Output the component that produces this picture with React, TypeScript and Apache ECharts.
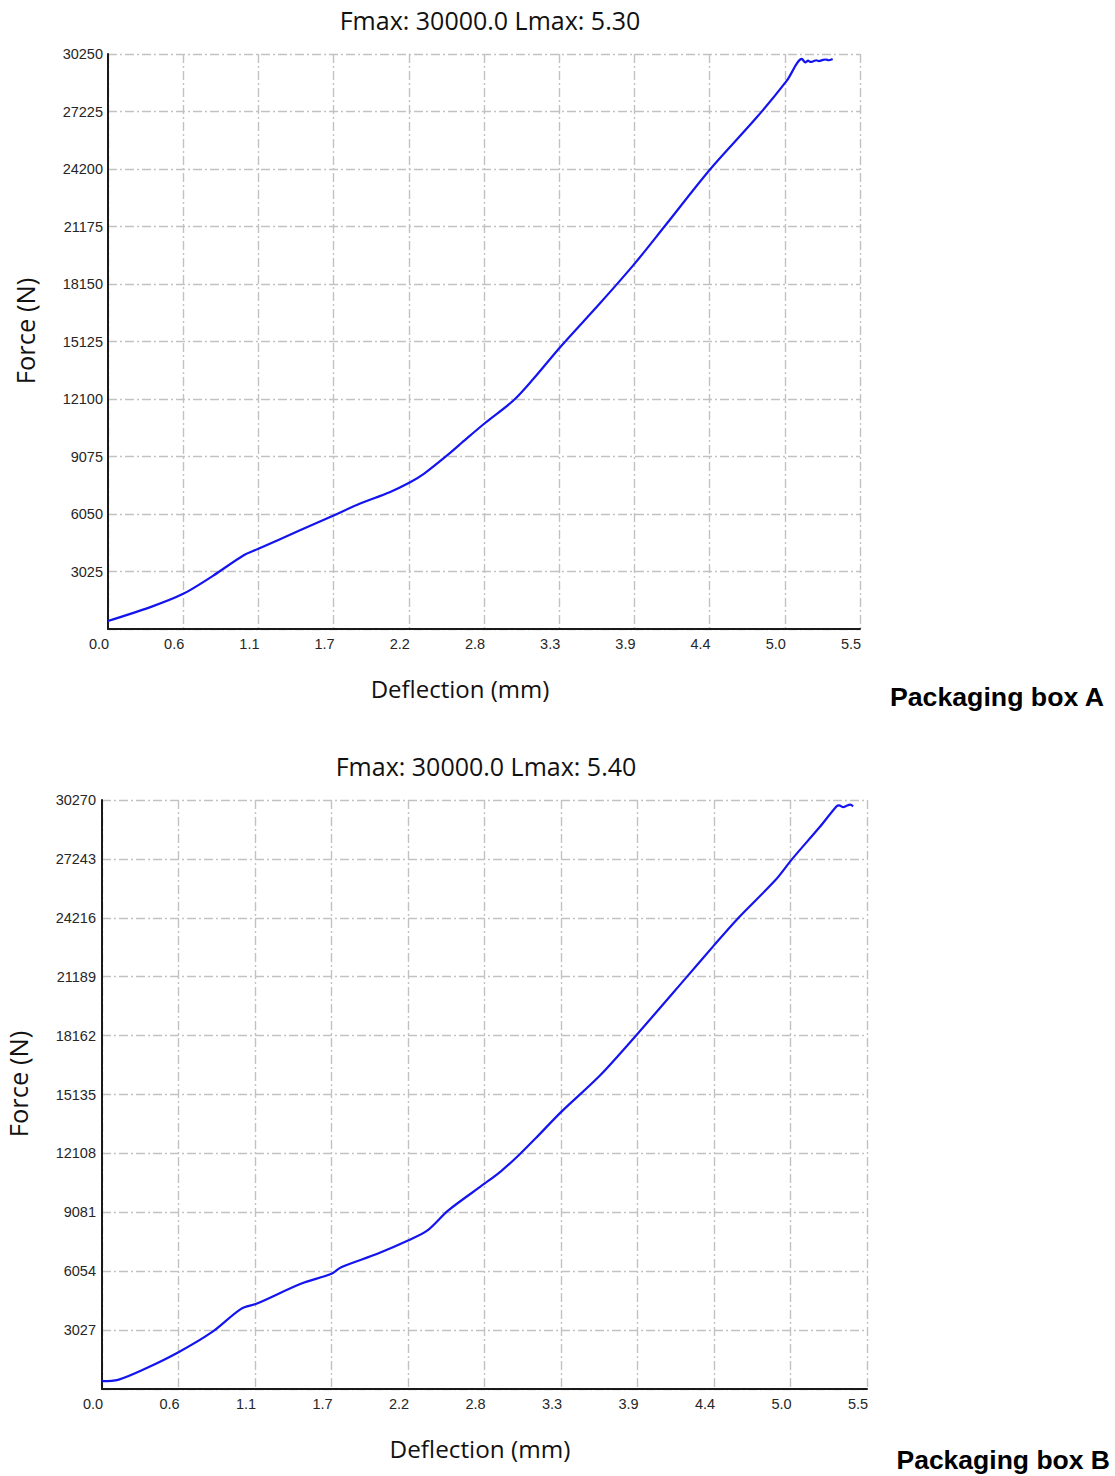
import React, { useEffect, useRef } from "react";
import * as echarts from "echarts";

// ---------- data ----------
const xTickLabels = ["0.0", "0.6", "1.1", "1.7", "2.2", "2.8", "3.3", "3.9", "4.4", "5.0", "5.5"];

const yTickLabelsA = ["", "3025", "6050", "9075", "12100", "15125", "18150", "21175", "24200", "27225", "30250"];
const yTickLabelsB = ["", "3027", "6054", "9081", "12108", "15135", "18162", "21189", "24216", "27243", "30270"];

const deflectionA = [
  0.0, 0.31, 0.55, 0.77, 0.99, 1.1, 1.4, 1.65, 1.84, 2.06, 2.21, 2.31, 2.48, 2.62, 2.76, 2.965, 3.11,
  3.31, 3.6, 3.855, 4.07, 4.4, 4.745, 4.965, 5.075, 5.1, 5.12, 5.14, 5.16, 5.18, 5.2, 5.23, 5.25,
  5.27, 5.3,
];
const forceA = [
  420, 1150, 1850, 2810, 3870, 4220, 5180, 5970, 6590, 7200, 7720, 8160, 9130, 10000, 10850, 12020, 13150,
  14850, 17150, 19250, 21175, 24150, 26920, 28850, 29990, 29810, 29900, 29830, 29870, 29920, 29880,
  29940, 29960, 29920, 29990,
];

const deflectionB = [
  0.0, 0.115, 0.31, 0.55, 0.79, 1.0, 1.11, 1.43, 1.65, 1.72, 1.98, 2.2, 2.34, 2.49, 2.75, 2.87, 3.0,
  3.12, 3.3, 3.58, 3.84, 4.2, 4.4, 4.57, 4.84, 4.96, 5.16, 5.28, 5.3, 5.33, 5.35, 5.38, 5.4,
];
const forceB = [
  400, 470, 1040, 1890, 2920, 4120, 4380, 5410, 5920, 6260, 6950, 7630, 8150, 9180, 10550, 11200, 12040,
  12900, 14230, 16110, 18170, 21140, 22800, 24170, 26140, 27220, 28880, 29940, 29990, 29900, 29960, 30030,
  29940,
];

const titleA = "Fmax: 30000.0 Lmax: 5.30";
const titleB = "Fmax: 30000.0 Lmax: 5.40";
const xName = "Deflection (mm)";
const yName = "Force (N)";
const boxA = "Packaging box A";
const boxB = "Packaging box B";

const X_MAX = 5.5;
const X_STEP = 0.55;
const Y_MAX_A = 30250;
const Y_STEP_A = 3025;
const Y_MAX_B = 30270;
const Y_STEP_B = 3027;

// ---------- styles ----------
const gridLine = { color: "#c2c2c2", width: 1.4, type: [9, 3, 2, 3] as number[] };
const axisLineStyle = { color: "#1a1a1a", width: 2 };
const labelFont = { fontFamily: "Liberation Sans", fontSize: 14.5, color: "#262626" };
const bigFont = "Open Sans";

function makeX(gridIndex: number) {
  return {
    type: "value",
    gridIndex,
    min: 0,
    max: X_MAX,
    interval: X_STEP,
    axisLine: { show: true, onZero: false, lineStyle: axisLineStyle },
    axisTick: { show: false },
    splitLine: { show: true, lineStyle: gridLine },
    axisLabel: {
      ...labelFont,
      margin: 7,
      padding: [0, 18, 0, 0],
      showMinLabel: true,
      showMaxLabel: true,
      formatter: (v: number) => xTickLabels[Math.round(v / X_STEP)] ?? "",
    },
  };
}

function makeY(gridIndex: number, max: number, step: number, labels: string[], margin: number) {
  return {
    type: "value",
    gridIndex,
    min: 0,
    max,
    interval: step,
    axisLine: { show: true, onZero: false, lineStyle: axisLineStyle },
    axisTick: { show: false },
    splitLine: { show: true, lineStyle: gridLine },
    axisLabel: {
      ...labelFont,
      margin,
      showMinLabel: true,
      showMaxLabel: true,
      formatter: (v: number) => labels[Math.round(v / step)] ?? "",
    },
  };
}

function textEl(text: string, x: number, y: number, size: number, opts: any = {}) {
  return {
    type: "text",
    x,
    y,
    rotation: opts.rotation ?? 0,
    style: {
      text,
      fontFamily: opts.family ?? bigFont,
      fontSize: size,
      fontWeight: opts.weight ?? "normal",
      fill: opts.fill ?? "#111",
      align: opts.align ?? "center",
      verticalAlign: "middle",
    },
  };
}

export default function App() {
  const ref = useRef<HTMLDivElement>(null);

  useEffect(() => {
    if (!ref.current) return;
    const chart = echarts.init(ref.current, undefined, { renderer: "svg" });
    const dataA = deflectionA.map((d, i) => [d, forceA[i]]);
    const dataB = deflectionB.map((d, i) => [d, forceB[i]]);

    const lineSeries = (idx: number, data: number[][]) => ({
      type: "line",
      xAxisIndex: idx,
      yAxisIndex: idx,
      data,
      showSymbol: false,
      smooth: 0.3,
      lineStyle: { color: "#1414ee", width: 2.2 },
      z: 5,
    });

    chart.setOption({
      animation: false,
      backgroundColor: "#ffffff",
      grid: [
        { left: 108, top: 54, width: 752, height: 575, containLabel: false },
        { left: 102, top: 800, width: 765, height: 589, containLabel: false },
      ],
      xAxis: [makeX(0), makeX(1)],
      yAxis: [
        makeY(0, Y_MAX_A, Y_STEP_A, yTickLabelsA, 5),
        makeY(1, Y_MAX_B, Y_STEP_B, yTickLabelsB, 6),
      ],
      series: [lineSeries(0, dataA), lineSeries(1, dataB)],
      graphic: [
        textEl(titleA, 490, 20, 25),
        textEl(titleB, 486, 766, 25),
        textEl(xName, 460, 688, 24),
        textEl(xName, 480, 1448, 24.3),
        textEl(yName, 25, 331, 25.5, { rotation: Math.PI / 2 }),
        textEl(yName, 18, 1084, 25.5, { rotation: Math.PI / 2 }),
        textEl(boxA, 1104, 697, 26.7, { family: "Liberation Sans", weight: "bold", align: "right", fill: "#000" }),
        textEl(boxB, 1110, 1460, 26.5, { family: "Liberation Sans", weight: "bold", align: "right", fill: "#000" }),
      ],
    });

    return () => chart.dispose();
  }, []);

  return (
    <div
      ref={ref}
      style={{ position: "absolute", left: 0, top: 0, width: 1115, height: 1476, background: "#fff" }}
    />
  );
}
